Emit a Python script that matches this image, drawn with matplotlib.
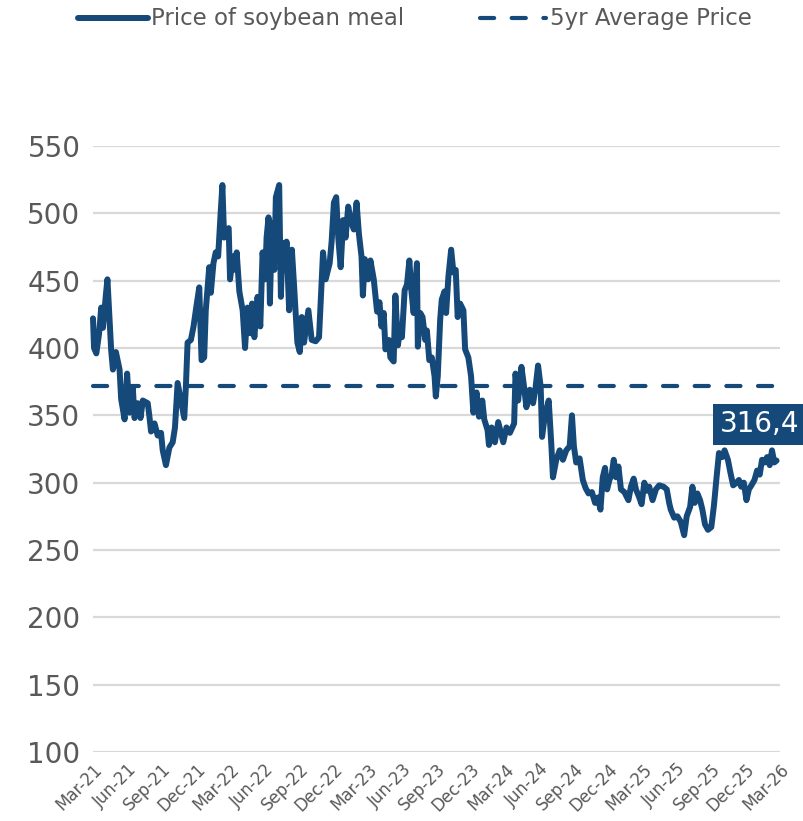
import matplotlib
matplotlib.use("Agg")
import matplotlib.pyplot as plt
from matplotlib.lines import Line2D

# ---- data ----
months_since_mar21 = [
    0.00, 0.09, 0.29, 0.52, 0.72, 0.87, 1.13, 1.26, 1.45, 1.59, 1.74, 2.00, 2.32, 2.46, 2.76, 2.98,
    3.19, 3.48, 3.63, 3.91, 4.15, 4.35, 4.78, 4.93, 5.07, 5.37, 5.65, 5.94, 6.09, 6.37, 6.67, 6.96,
    7.16, 7.39, 7.68, 7.97, 8.11, 8.26, 8.55, 8.78, 8.98, 9.28, 9.48, 9.71, 9.85, 10.15, 10.29, 10.52,
    10.72, 10.93, 11.16, 11.30, 11.45, 11.63, 11.85, 11.97, 12.20, 12.43, 12.55, 12.78, 13.07, 13.28,
    13.50, 13.74, 13.89, 14.09, 14.37, 14.61, 14.81, 15.04, 15.16, 15.33, 15.45, 15.63, 15.83, 15.97,
    16.26, 16.41, 16.55, 16.78, 16.90, 17.13, 17.37, 17.57, 17.85, 18.06, 18.23, 18.43, 18.81, 19.10,
    19.45, 19.74, 20.09, 20.32, 20.67, 20.84, 21.04, 21.24, 21.42, 21.63, 21.85, 22.06, 22.29, 22.50,
    22.78, 23.02, 23.22, 23.45, 23.57, 23.74, 24.03, 24.23, 24.52, 24.81, 25.02, 25.19, 25.39, 25.54,
    25.83, 25.97, 26.26, 26.41, 26.63, 26.84, 26.98, 27.22, 27.42, 27.63, 27.80, 28.00, 28.29, 28.37,
    28.58, 28.78, 29.02, 29.16, 29.37, 29.59, 29.83, 29.94, 30.11, 30.32, 30.46, 30.70, 30.84, 31.04,
    31.28, 31.48, 31.68, 31.85, 32.06, 32.35, 32.50, 32.78, 33.02, 33.22, 33.50, 33.71, 34.00, 34.17,
    34.46, 34.58, 34.81, 35.10, 35.39, 35.83, 36.11, 36.41, 36.78, 36.90, 37.13, 37.42, 37.65, 37.85,
    38.15, 38.43, 38.63, 38.87, 39.10, 39.22, 39.45, 39.80, 40.03, 40.17, 40.46, 40.76, 41.04, 41.33,
    41.63, 41.83, 42.00, 42.20, 42.50, 42.78, 43.02, 43.28, 43.57, 43.85, 44.09, 44.32, 44.52, 44.72,
    44.90, 45.10, 45.30, 45.48, 45.68, 45.89, 46.11, 46.41, 46.76, 46.98, 47.22, 47.42, 47.71, 47.91,
    48.15, 48.37, 48.58, 48.87, 49.16, 49.45, 49.83, 50.11, 50.32, 50.46, 50.76, 51.04, 51.33, 51.63,
    51.85, 52.15, 52.35, 52.55, 52.78, 53.02, 53.22, 53.45, 53.71, 54.00, 54.23, 54.46, 54.67, 54.96,
    55.16, 55.45, 55.68, 55.91, 56.20, 56.41, 56.61, 56.84, 57.07, 57.28, 57.50, 57.77, 58.00, 58.23,
    58.43, 58.67, 58.87, 59.10, 59.30, 59.50, 59.70,
]
price_soybean_meal = [
    422, 400, 396, 410, 430, 415, 440, 451, 421, 398, 384, 397, 384, 362, 347, 381,
    352, 370, 348, 359, 348, 361, 359, 349, 338, 344, 335, 337, 324, 313, 326, 330,
    341, 374, 361, 348, 371, 404, 406, 416, 428, 445, 391, 393, 428, 460, 441, 463,
    471, 468, 502, 521, 482, 488, 489, 451, 468, 458, 471, 442, 428, 400,
    430, 411, 433, 408, 438, 416, 471, 451, 482, 497, 433, 493, 458, 512,
    521, 438, 478, 458, 479, 428, 473, 445, 404, 397, 423, 404, 428, 406,
    405, 408, 471, 451, 463, 479, 508, 512, 482, 460, 495, 482, 505, 495,
    488, 508, 485, 468, 439, 466, 451, 465, 451, 427, 434, 416, 426, 399,
    406, 393, 390, 439, 402, 416, 408, 443, 447, 465, 443, 426, 463, 401,
    426, 423, 406, 413, 391, 393, 379, 364, 379, 421, 436, 442, 426, 453,
    473, 456, 458, 423, 433, 428, 399, 393, 379, 352, 367, 349, 361, 347,
    339, 328, 341, 330, 345, 330, 341, 337, 344, 381, 361, 386, 371, 356,
    369, 359, 369, 387, 371, 334, 349, 361, 328, 304, 317, 324, 317, 324,
    327, 350, 327, 315, 318, 302, 296, 292, 293, 285, 289, 280, 304, 311,
    295, 302, 306, 317, 304, 312, 295, 293, 287, 297, 303, 295, 289, 284,
    300, 294, 297, 287, 295, 298, 297, 295, 285, 280, 274, 275, 271, 261,
    275, 282, 297, 285, 292, 287, 280, 269, 265, 267, 283, 304, 322, 319,
    324, 317, 307, 298, 300, 302, 297, 300, 287, 295, 298, 302, 309, 306,
    317, 315, 319, 313, 324, 315, 316.4,
]
avg_5yr_price = 372
last_label = "316,4"
tick_labels = ["Mar-21", "Jun-21", "Sep-21", "Dec-21", "Mar-22", "Jun-22", "Sep-22", "Dec-22",
               "Mar-23", "Jun-23", "Sep-23", "Dec-23", "Mar-24", "Jun-24", "Sep-24", "Dec-24",
               "Mar-25", "Jun-25", "Sep-25", "Dec-25", "Mar-26"]
y_ticks = [100, 150, 200, 250, 300, 350, 400, 450, 500, 550]
series_names = ["Price of soybean meal", "5yr Average Price"]

# ---- style ----
BLUE = "#15497a"
GREY_TXT = "#595959"
plt.rcParams["font.family"] = ["DejaVu Sans"]

fig = plt.figure(figsize=(8.04, 8.21), dpi=100)
ax = fig.add_axes([93 / 804, 1 - 752 / 821, 687 / 804, 606 / 821])

ax.set_xlim(0, 60)
ax.set_ylim(100, 550)
ax.set_yticks(y_ticks)
ax.set_xticks([3 * i for i in range(len(tick_labels))])
ax.set_xticklabels(tick_labels, rotation=45, ha="right", rotation_mode="anchor",
                   fontsize=12, color=GREY_TXT)
ax.tick_params(axis="x", length=0, pad=6)
ax.tick_params(axis="y", length=0, pad=9, labelsize=20, labelcolor=GREY_TXT)
for s in ax.spines.values():
    s.set_visible(False)
ax.grid(axis="y", color="#d9d9d9", lw=1.6)
ax.set_axisbelow(True)

ax.plot(months_since_mar21, price_soybean_meal, color=BLUE, lw=4.3,
        solid_joinstyle="round", solid_capstyle="round", clip_on=False, zorder=3)
ax.plot([0, 60], [avg_5yr_price, avg_5yr_price], color=BLUE, lw=3.0,
        linestyle=(0, (3.4, 4.2)), dash_capstyle="round", clip_on=False, zorder=2)

ax.annotate(last_label, xy=(months_since_mar21[-1], price_soybean_meal[-1]),
            xytext=(-12, 26), textcoords="offset points", ha="center", va="center",
            fontsize=20, color="white",
            bbox=dict(boxstyle="square,pad=0.25", fc=BLUE, ec="none"),
            annotation_clip=False, zorder=5)

# legend
fig.add_artist(Line2D([78 / 804, 148 / 804], [1 - 18 / 821] * 2, color=BLUE, lw=4.3,
                      solid_capstyle="round"))
fig.text(151 / 804, 1 - 18 / 821, series_names[0], fontsize=16.5, color=GREY_TXT,
         va="center", ha="left")
fig.add_artist(Line2D([480 / 804, 546 / 804], [1 - 18 / 821] * 2, color=BLUE, lw=3.0,
                      linestyle=(0, (3.4, 4.2)), dash_capstyle="round"))
fig.text(550 / 804, 1 - 18 / 821, series_names[1], fontsize=16.5, color=GREY_TXT,
         va="center", ha="left")

fig.savefig("out.png", dpi=100)
